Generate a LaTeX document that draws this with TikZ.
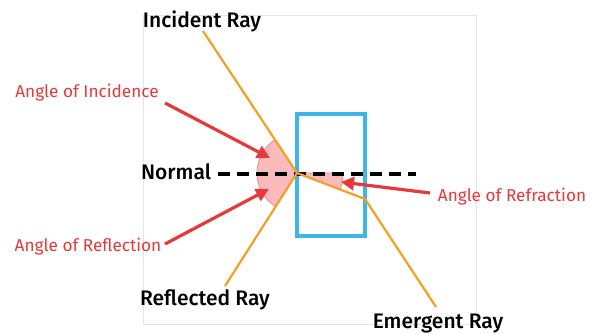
\documentclass[tikz,border=0pt]{standalone}
\usepackage{fontspec}
\setmainfont{Fira Sans}
\newfontfamily\labelfont{Fira Sans Medium}
\usetikzlibrary{arrows.meta}
\definecolor{rayorange}{HTML}{F5A025}
\definecolor{blockblue}{HTML}{3DB5E6}
\definecolor{pointred}{HTML}{E8393A}
\definecolor{anglepink}{HTML}{F8BABB}
\definecolor{angleedge}{HTML}{EE8C8E}
\definecolor{framegray}{HTML}{E4E4E4}

\begin{document}
\begin{tikzpicture}[x=1pt,y=-1pt,
            ray/.style={rayorange, line width=2.2pt},
            pointer/.style={pointred, line width=3.2pt, -{Triangle[length=13pt,width=13pt]}},
            wedge/.style={fill=anglepink, draw=angleedge, line width=0.8pt},
            raylabel/.style={inner sep=0pt, font=\labelfont\fontsize{21}{23}\selectfont},
            anglelabel/.style={inner sep=0pt, text=pointred, font=\fontsize{17.2}{19}\selectfont}]
            \useasboundingbox (0,0) rectangle (592,334);
            \draw [framegray, line width=0.8pt] (143,15) rectangle (476,324);
            \coordinate (p) at (297,173);
            \coordinate (q) at (365,199);
            \coordinate (ri) at (203,31);
            \coordinate (rr) at (225,286);
            \coordinate (re) at (436,307);
            \fill [wedge] (p) -- ++(122.7:40) arc [start angle=122.7, end angle=236.5, radius=40] -- cycle;
            \fill [wedge] (p) -- ++(0:46) arc [start angle=0, end angle=20.9, radius=46] -- cycle;
            \draw [blockblue, line width=3.2pt] (297,114) rectangle (365,236);
            \coordinate (n1) at (218,174);
            \coordinate (n2) at (416,174);
            \draw [black, line width=3.2pt, dash pattern=on 12pt off 7pt] (n1) -- (n2);
            \draw [ray] (ri) -- (p) -- (q) -- (re);
            \draw [ray] (p) -- (rr);
            \node [raylabel] (incident) at (202,21) {Incident Ray};
            \node [raylabel] (reflected) at (205,300) {Reflected Ray};
            \node [raylabel] (emergent) at (438,324) {Emergent Ray};
            \node [raylabel] (normal) at (176,172) {Normal};
            \node [anglelabel] (incidence) at (87,93) {Angle of Incidence};
            \node [anglelabel] (reflection) at (88,247) {Angle of Reflection};
            \node [anglelabel] (refraction) at (512,197) {Angle of Refraction};
            \coordinate (ia) at (165,103);
            \coordinate (ib) at (270,158);
            \coordinate (fa) at (165,244);
            \coordinate (fb) at (269,189);
            \coordinate (ra) at (430,193);
            \coordinate (rb) at (341,182);
            \draw [pointer] (ia) -- (ib);
            \draw [pointer] (fa) -- (fb);
            \draw [pointer] (ra) -- (rb);
        \end{tikzpicture}
\end{document}
